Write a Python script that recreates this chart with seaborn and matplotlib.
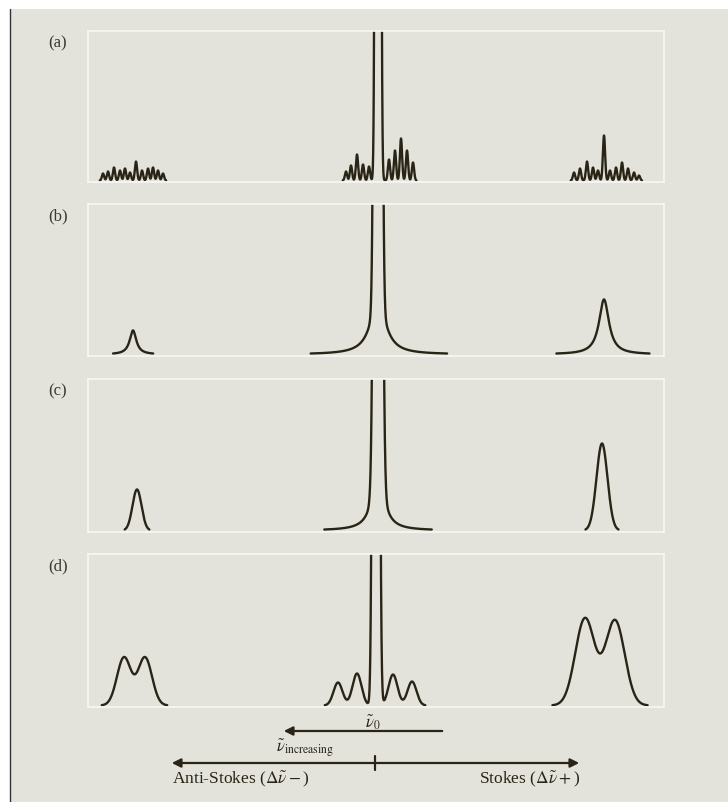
import numpy as np
import seaborn as sns
import matplotlib.pyplot as plt
from matplotlib.patches import Rectangle, FancyArrowPatch
from matplotlib.lines import Line2D

# peak lists: shift from the Rayleigh line (0), height (arb. units), width, profile kind
# (a) rotational fine structure
a_pos = [-275, -270, -264, -258, -253, -248, -242, -236, -230, -225, -220, -215,
         -32, -27, -21, -15, -9, 0, 11, 17, 23, 29, 35,
         196, 202, 209, 215, 220, 226, 232, 238, 244, 250, 256, 261]
a_hgt = [7, 9, 13, 10, 12, 8, 19, 10, 12, 13, 10, 7,
         9, 15, 26, 16, 14, 5000, 21, 30, 42, 30, 18,
         8, 12, 19, 13, 10, 45, 10, 13, 18, 12, 8, 5]
a_wid = [1.1] * 17 + [1.5] + [1.1] * 17
a_kind = ['g'] * 35

# (b) lorentzian lines
b_pos = [-245, 0, 0, 226]
b_hgt = [24, 3000, 55, 55]
b_wid = [4, 2.2, 9, 6]
b_kind = ['l', 'g', 'l', 'l']

# (c) gaussian bands
c_pos = [-241, 0, 0, 224]
c_hgt = [41, 2000, 60, 87]
c_wid = [4.5, 2.6, 7, 5.5]
c_kind = ['g', 'g', 'l', 'g']

# (d) doublets
d_pos = [-254, -233, -40, -21, -2, 15, 34, 207, 237]
d_hgt = [48, 48, 23, 32, 3000, 31, 24, 87, 85]
d_wid = [7, 7, 4.5, 4.5, 2.0, 4.5, 4.5, 9.7, 9.7]
d_kind = ['g'] * 9

panel_names = ['(a)', '(b)', '(c)', '(d)']
panel_data = [(a_pos, a_hgt, a_wid, a_kind), (b_pos, b_hgt, b_wid, b_kind),
              (c_pos, c_hgt, c_wid, c_kind), (d_pos, d_hgt, d_wid, d_kind)]
panel_cut = [0.1, 1.0, 1.0, 0.3]


def spectrum(x, pos, hgt, wid, kind):
    y = np.zeros_like(x)
    for p, h, w, k in zip(pos, hgt, wid, kind):
        if k == 'g':
            y += h * np.exp(-(x - p) ** 2 / (2 * w ** 2))
        else:
            y += h * w ** 2 / (w ** 2 + (x - p) ** 2)
    return y


sns.set_style('white')
plt.rcParams['font.family'] = ['Liberation Serif', 'DejaVu Serif']
plt.rcParams['mathtext.fontset'] = 'stix'

W, H = 728, 803
bg = '#e3e3dc'
ink = '#2a2416'
fig = plt.figure(figsize=(W / 100, H / 100), dpi=100, facecolor='white')

# page background and left edge of the scan
fig.add_artist(Rectangle((10 / W, 0), 1, 1 - 10 / H, transform=fig.transFigure,
                         facecolor=bg, edgecolor='none', zorder=-10))
fig.add_artist(Line2D([9.5 / W, 9.5 / W], [0, 1 - 10 / H], transform=fig.transFigure,
                      color='#333333', lw=1.0))

frames = [(32, 183), (205, 357), (380, 533), (555, 708)]
x = np.linspace(-290, 286, 6000)

for (top, bot), name, (pos, hgt, wid, kind), cut in zip(frames, panel_names, panel_data, panel_cut):
    ax = fig.add_axes([88 / W, 1 - bot / H, 576 / W, (bot - top) / H])
    ax.set_facecolor('none')
    y = spectrum(x, pos, hgt, wid, kind)
    # only the band regions are inked, the flat baseline is not drawn
    on = y > cut
    edges = np.flatnonzero(np.diff(on.astype(int)))
    starts = list(np.flatnonzero(on[:1])) + list(edges[~on[edges]] + 1)
    ends = list(edges[on[edges]] + 1) + ([len(x)] if on[-1] else [])
    for s0, s1 in zip(starts, ends):
        sns.lineplot(x=x[s0:s1], y=y[s0:s1], ax=ax, color=ink, lw=1.7,
                     estimator=None, sort=False)
    ax.set_xlim(-290, 286)
    ax.set_ylim(-1.5, bot - top - 1.5)
    ax.set_xticks([])
    ax.set_yticks([])
    ax.set_xlabel('')
    ax.set_ylabel('')
    for s in ax.spines.values():
        s.set_color('#f7f7f3')
        s.set_linewidth(1.2)
    fig.text(58 / W, 1 - (top + 11) / H, name, ha='center', va='center',
             fontsize=12, color='#3a3a30')

# direction arrows below the spectra
def fx(px):
    return px / W


def fy(py):
    return 1 - py / H


fig.add_artist(FancyArrowPatch((fx(445), fy(732)), (fx(281), fy(732)), transform=fig.transFigure,
                               arrowstyle='-|>', mutation_scale=13, color=ink, lw=1.6))
fig.add_artist(FancyArrowPatch((fx(169), fy(764)), (fx(582), fy(764)), transform=fig.transFigure,
                               arrowstyle='<|-|>', mutation_scale=13, color=ink, lw=1.6))
fig.add_artist(Line2D([fx(375), fx(375)], [fy(757), fy(771)], transform=fig.transFigure,
                      color=ink, lw=1.6))

fig.text(fx(373), fy(722), r'$\tilde{\nu}_0$', ha='center', va='center', fontsize=12, color=ink)
fig.text(fx(276), fy(748), r'$\tilde{\nu}_{\mathrm{increasing}}$', ha='left', va='center',
         fontsize=12, color=ink)
fig.text(fx(172), fy(779), r'Anti-Stokes ($\Delta\tilde{\nu}-$)', ha='left', va='center',
         fontsize=12.5, color=ink)
fig.text(fx(580), fy(779), r'Stokes ($\Delta\tilde{\nu}+$)', ha='right', va='center',
         fontsize=12.5, color=ink)

fig.savefig('out.png', dpi=100, facecolor=fig.get_facecolor())
